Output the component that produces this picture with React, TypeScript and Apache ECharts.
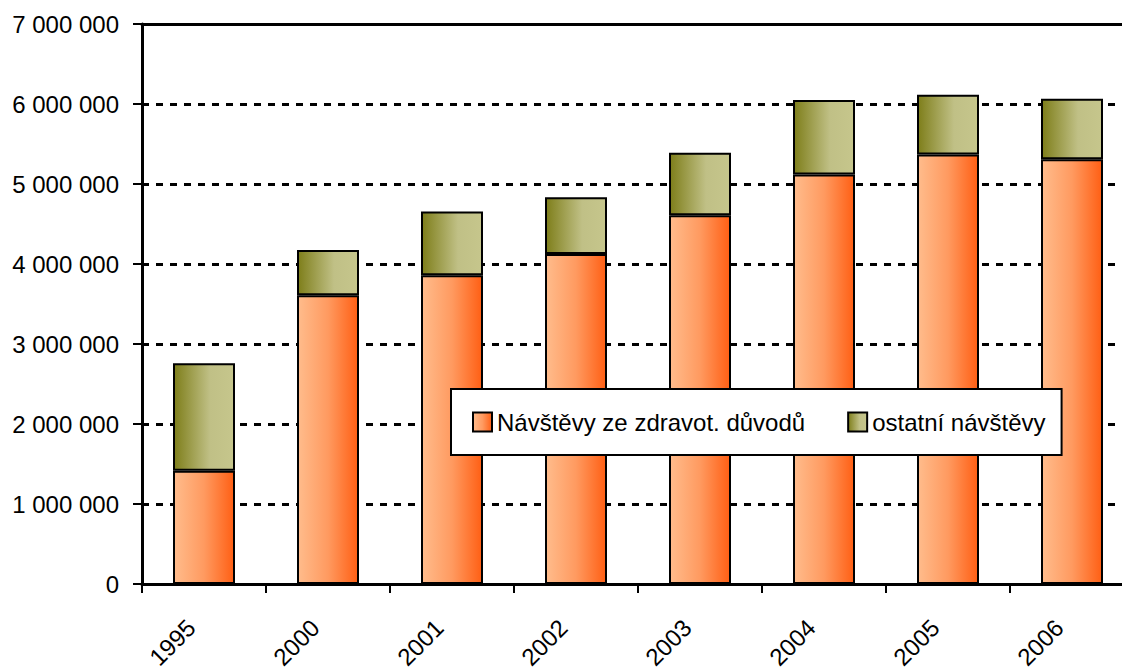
import React, { useEffect, useRef } from "react";
import * as echarts from "echarts";

const categories = ["1995", "2000", "2001", "2002", "2003", "2004", "2005", "2006"];
const healthVisits = [1415000, 3610000, 3860000, 4125000, 4610000, 5120000, 5370000, 5310000];
const otherVisits = [1345000, 565000, 795000, 710000, 780000, 930000, 745000, 755000];
const seriesNames = ["Návštěvy ze zdravot. důvodů", "ostatní návštěvy"];
const yMin = 0;
const yMax = 7000000;
const yStep = 1000000;

const FONT = "'Liberation Sans', Arial, sans-serif";

const fmt = (v: number) => String(v).replace(/\B(?=(\d{3})+(?!\d))/g, " ");

export default function App() {
  const ref = useRef<HTMLDivElement>(null);
  useEffect(() => {
    if (!ref.current) return;
    const chart = echarts.init(ref.current, undefined, { renderer: "svg" });
    const orange = new echarts.graphic.LinearGradient(0, 0, 1, 0, [
      { offset: 0, color: "#FFBC8C" },
      { offset: 0.5, color: "#FF9A60" },
      { offset: 1, color: "#FF5F14" },
    ]);
    const olive = new echarts.graphic.LinearGradient(0, 0, 1, 0, [
      { offset: 0, color: "#7E7E1A" },
      { offset: 0.6, color: "#C0C086" },
      { offset: 1, color: "#C6C68C" },
    ]);
    chart.setOption({
      animation: false,
      backgroundColor: "#fff",
      textStyle: { fontFamily: FONT },
      grid: {
        left: 142,
        top: 24,
        width: 992,
        height: 560,
        containLabel: false,
        outerBoundsMode: "none",
      },
      legend: {
        left: 451,
        top: 389,
        orient: "horizontal",
        backgroundColor: "#fff",
        borderColor: "#000",
        borderWidth: 2,
        borderRadius: 0,
        padding: [18, 16, 18, 21],
        itemGap: 42,
        itemWidth: 19,
        itemHeight: 19,
        icon: "rect",
        textStyle: { fontFamily: FONT, fontSize: 24, color: "#000", lineHeight: 30 },
        data: seriesNames,
      },
      xAxis: [
        {
          type: "category",
          data: categories,
          position: "bottom",
          boundaryGap: true,
          axisLine: { lineStyle: { color: "#000", width: 3 } },
          axisTick: { show: true, length: 9, lineStyle: { color: "#000", width: 2 } },
          axisLabel: {
            rotate: 45,
            margin: 41,
            padding: [0, 8, 0, 0],
            verticalAlign: "bottom",
            lineHeight: 20,
            fontFamily: FONT,
            fontSize: 24,
            color: "#000",
            interval: 0,
          },
        },
        {
          type: "category",
          data: categories,
          position: "top",
          axisLine: { show: true, lineStyle: { color: "#000", width: 3 } },
          axisTick: { show: false },
          axisLabel: { show: false },
        },
      ],
      yAxis: {
        type: "value",
        min: yMin,
        max: yMax,
        interval: yStep,
        axisLine: { show: true, lineStyle: { color: "#000", width: 3 } },
        axisTick: { show: true, length: 9, lineStyle: { color: "#000", width: 2 } },
        axisLabel: {
          formatter: (v: number) => fmt(v),
          margin: 23,
          fontFamily: FONT,
          fontSize: 24,
          color: "#000",
        },
        splitLine: { show: true, lineStyle: { color: "#000", width: 3, type: [7, 7] } },
      },
      series: [
        {
          name: seriesNames[0],
          type: "bar",
          stack: "total",
          barWidth: "50%",
          data: healthVisits,
          itemStyle: { color: orange, borderColor: "#000", borderWidth: 2 },
        },
        {
          name: seriesNames[1],
          type: "bar",
          stack: "total",
          barWidth: "50%",
          data: otherVisits,
          itemStyle: { color: olive, borderColor: "#000", borderWidth: 2 },
        },
      ],
    });
    return () => chart.dispose();
  }, []);
  return (
    <div
      style={{
        position: "fixed",
        left: 0,
        top: 0,
        width: 1122,
        height: 672,
        overflow: "hidden",
        background: "#fff",
      }}
    >
      <div ref={ref} style={{ width: 1150, height: 672 }} />
    </div>
  );
}
